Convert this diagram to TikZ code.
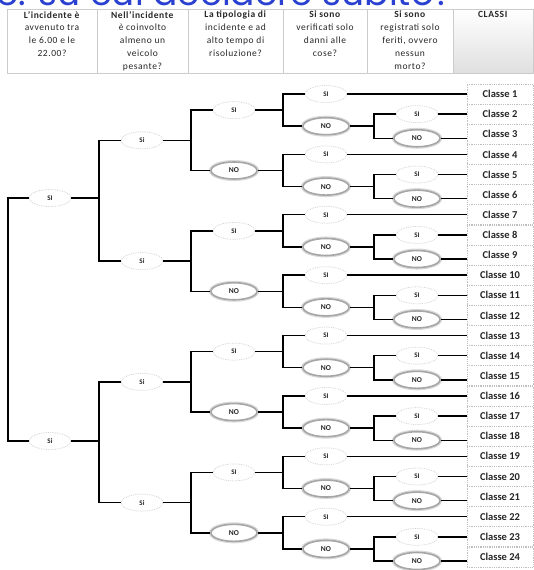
\documentclass[tikz,border=0pt]{standalone}
\usepackage{fontspec}
\setmainfont{Carlito}
\newfontfamily\hdfont[LetterSpace=6]{Carlito}
\newfontfamily\titlefont{Poppins}
\usetikzlibrary{calc,shapes.geometric}
\definecolor{titleblue}{HTML}{2A40D0}
\definecolor{ink}{HTML}{262626}
\tikzset{
  branch/.style={line width=1.4pt,black},
  sinode/.style={ellipse,draw=gray!35,densely dotted,line width=.8pt,fill=white,minimum width=42pt,minimum height=17pt,inner sep=0pt,text=ink,font=\bfseries\fontsize{7}{8}\selectfont},
  nonode/.style={ellipse,draw=gray!70,line width=1.6pt,fill=white,minimum width=46pt,minimum height=17pt,inner sep=0pt,text=ink,font=\bfseries\fontsize{7.5}{8}\selectfont,preaction={draw=gray!30,line width=4pt}},
  classbox/.style={rectangle,draw=gray!50,densely dotted,line width=.8pt,fill=white,minimum width=66pt,minimum height=20pt,text=ink,font=\bfseries\fontsize{10.5}{12}\selectfont},
  headcell/.style={anchor=north,align=center,inner sep=0pt,text=ink,font=\hdfont\fontsize{9.5}{12.8}\selectfont}
}
\begin{document}
\begin{tikzpicture}[x=1pt,y=-1pt]
\useasboundingbox (0,0) rectangle (534,570);
% title, cut off by the top edge
\begin{scope}
\clip (-10,-60) rectangle (544,6);
\node[anchor=south west,inner sep=0pt,outer sep=0pt,text=titleblue,font=\titlefont\fontsize{36}{36}\selectfont] (title) at (-4,5.5) {e. su cui decidere subito?};
\end{scope}
% header row
\foreach \xa/\xb in {7/97,97/188,188/283,283/367,367/453}
  \draw[gray!40,line width=1pt] (\xa,9) rectangle (\xb,73);
\shade[top color=white,bottom color=gray!25] (453,9) rectangle (533,73);
\draw[gray!40,line width=1pt] (453,9) rectangle (533,73);
\node[headcell] (h1) at (52,11) {\textbf{L’incidente è}\\avvenuto tra\\le 6.00 e le\\22.00?};
\node[headcell] (h2) at (142.5,11) {\textbf{Nell’incidente}\\è coinvolto\\almeno un\\veicolo\\pesante?};
\node[headcell] (h3) at (235.5,11) {\textbf{La tipologia di}\\incidente e ad\\alto tempo di\\risoluzione?};
\node[headcell] (h4) at (325,11) {\textbf{Si sono}\\verificati solo\\danni alle\\cose?};
\node[headcell] (h5) at (410,11) {\textbf{Si sono}\\registrati solo\\feriti, ovvero\\nessun\\morto?};
\node[headcell] (h6) at (493,11) {\textbf{CLASSI}};
% split columns
\coordinate (s0) at (8,0);
\coordinate (s1) at (99,0);
\coordinate (s2) at (191,0);
\coordinate (s3) at (283,0);
\coordinate (s4) at (374,0);
% classes
\foreach \k in {1,...,24}
  \node[classbox] (k\k) at (500,{94+20.13*(\k-1)}) {Classe \k};
% levels 3 to 5
\foreach \g/\st/\lb in {0/sinode/SI,1/nonode/NO,2/sinode/SI,3/nonode/NO,4/sinode/SI,5/nonode/NO,6/sinode/SI,7/nonode/NO} {
  \pgfmathsetmacro\ya{94+60.39*\g}
  \pgfmathsetmacro\yb{\ya+20.13}
  \pgfmathsetmacro\yc{\ya+44.26}
  \pgfmathsetmacro\yd{(\yb+\yc)/2}
  \pgfmathsetmacro\ye{(\ya+\yd)/2}
  \pgfmathtruncatemacro\ka{3*\g+1}
  \pgfmathtruncatemacro\kb{3*\g+2}
  \pgfmathtruncatemacro\kc{3*\g+3}
  \node[\st] (c\g) at (234,\ye) {\lb};
  \node[sinode] (si4-\g) at (326,\ya) {SI};
  \node[nonode] (no4-\g) at (326,\yd) {NO};
  \node[sinode] (si5-\g) at (417,\yb) {SI};
  \node[nonode] (no5-\g) at (417,\yc) {NO};
  \draw[branch] (c\g.east) -- (c\g.east -| s3);
  \draw[branch] (si4-\g.west) -- (si4-\g.west -| s3) -- (no4-\g.west -| s3) -- (no4-\g.west);
  \draw[branch] (no4-\g.east) -- (no4-\g.east -| s4);
  \draw[branch] (si5-\g.west) -- (si5-\g.west -| s4) -- (no5-\g.west -| s4) -- (no5-\g.west);
  \draw[branch] (si4-\g.east) -- (si4-\g.east -| k\ka.west);
  \draw[branch] (si5-\g.east) -- (si5-\g.east -| k\kb.west);
  \draw[branch] (no5-\g.east) -- (no5-\g.east -| k\kc.west);
}
% level 2
\foreach \h in {0,...,3} {
  \pgfmathsetmacro\yy{140.29+120.78*\h}
  \pgfmathtruncatemacro\ga{2*\h}
  \pgfmathtruncatemacro\gb{2*\h+1}
  \node[sinode] (b\h) at (142,\yy) {Si};
  \draw[branch] (b\h.east) -- (b\h.east -| s2);
  \draw[branch] (c\ga.west) -- (c\ga.west -| s2) -- (c\gb.west -| s2) -- (c\gb.west);
}
% level 1 and root
\node[sinode] (a0) at (50,198) {SI};
\node[sinode] (a1) at (50,441) {Si};
\draw[branch] (a0.east) -- (a0.east -| s1);
\draw[branch] (b0.west) -- (b0.west -| s1) -- (b1.west -| s1) -- (b1.west);
\draw[branch] (a1.east) -- (a1.east -| s1);
\draw[branch] (b2.west) -- (b2.west -| s1) -- (b3.west -| s1) -- (b3.west);
\draw[branch] (a0.west) -- (a0.west -| s0) -- (a1.west -| s0) -- (a1.west);
\end{tikzpicture}
\end{document}
